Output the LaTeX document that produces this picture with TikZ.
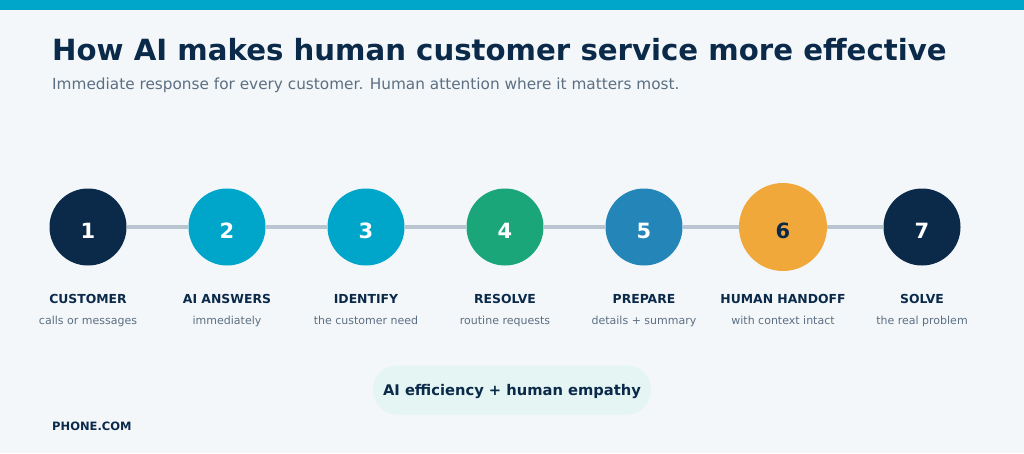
\documentclass[tikz,border=0pt]{standalone}
\usepackage{fontspec}
\setmainfont{DejaVu Sans}
\definecolor{bgc}{HTML}{F3F7FA}
\definecolor{topbar}{HTML}{00A6C9}
\definecolor{navy}{HTML}{0B2A4A}
\definecolor{subgray}{HTML}{5C6F82}
\definecolor{linec}{HTML}{B9C6D1}
\definecolor{cteal}{HTML}{00A6C9}
\definecolor{cgreen}{HTML}{1BA67A}
\definecolor{cblue}{HTML}{2486B8}
\definecolor{corange}{HTML}{F0A83B}
\definecolor{pillc}{HTML}{E4F5F3}
\tikzset{
  stepcircle/.style={circle, minimum size=77pt, inner sep=0pt},
  stepnum/.style={font=\bfseries\fontsize{21}{25}\selectfont, text=white, inner sep=0pt},
  steplabel/.style={font=\bfseries\fontsize{12.4}{15}\selectfont, text=navy, anchor=base},
  stepsub/.style={font=\fontsize{11}{13}\selectfont, text=subgray, anchor=base},
  conn/.style={draw=linec, line width=4.5pt}
}
\begin{document}
\begin{tikzpicture}[x=1pt,y=-1pt]
\useasboundingbox (0,0) rectangle (1024,453);
\fill[bgc] (0,0) rectangle (1024,453);
\fill[topbar] (0,0) rectangle (1024,10);
\node[anchor=base west, inner sep=0pt, text=navy, font=\bfseries\fontsize{29.2}{35}\selectfont] (title) at (52,60) {How AI makes human customer service more effective};
\node[anchor=base west, inner sep=0pt, text=subgray, font=\fontsize{15.3}{19}\selectfont] (subtitle) at (52,89) {Immediate response for every customer. Human attention where it matters most.};
% circles
\node[stepcircle, fill=navy] (s1) at (88,227) {};
\node[stepcircle, fill=cteal] (s2) at (227,227) {};
\node[stepcircle, fill=cteal] (s3) at (366,227) {};
\node[stepcircle, fill=cgreen] (s4) at (505,227) {};
\node[stepcircle, fill=cblue] (s5) at (644,227) {};
\node[stepcircle, fill=corange, minimum size=88pt] (s6) at (783,227) {};
\node[stepcircle, fill=navy] (s7) at (922,227) {};
\foreach \a/\b in {s1/s2,s2/s3,s3/s4,s4/s5,s5/s6,s6/s7}{\draw[conn] (\a.east) -- (\b.west);}
\foreach \n in {1,2,3,4,5,7}{\node[stepnum] (n\n) at ([yshift=-3.5pt]s\n.center) {\n};}
\node[stepnum, text=navy] (n6) at ([yshift=-3.5pt]s6.center) {6};
% labels
\foreach \n/\x/\t/\s in {1/88/CUSTOMER/calls or messages, 2/227/AI ANSWERS/immediately, 3/366/IDENTIFY/the customer need, 4/505/RESOLVE/routine requests, 5/644/PREPARE/details + summary, 6/783/HUMAN HANDOFF/with context intact, 7/922/SOLVE/the real problem}{
  \node[steplabel] (l\n) at (\x,303.5) {\t};
  \node[stepsub] (d\n) at (\x,324.5) {\s};
}
% pill
\node[fill=pillc, rounded corners=24pt, minimum width=278pt, minimum height=49pt, inner sep=0pt] (pill) at (512,390) {};
\node[text=navy, inner sep=0pt, font=\bfseries\fontsize{14.7}{18}\selectfont] (pilltext) at (512,391.5) {AI efficiency + human empathy};
\node[anchor=base west, inner sep=0pt, text=navy, font=\bfseries\fontsize{11.5}{14}\selectfont] (brand) at (52,430) {PHONE.COM};
\end{tikzpicture}
\end{document}
